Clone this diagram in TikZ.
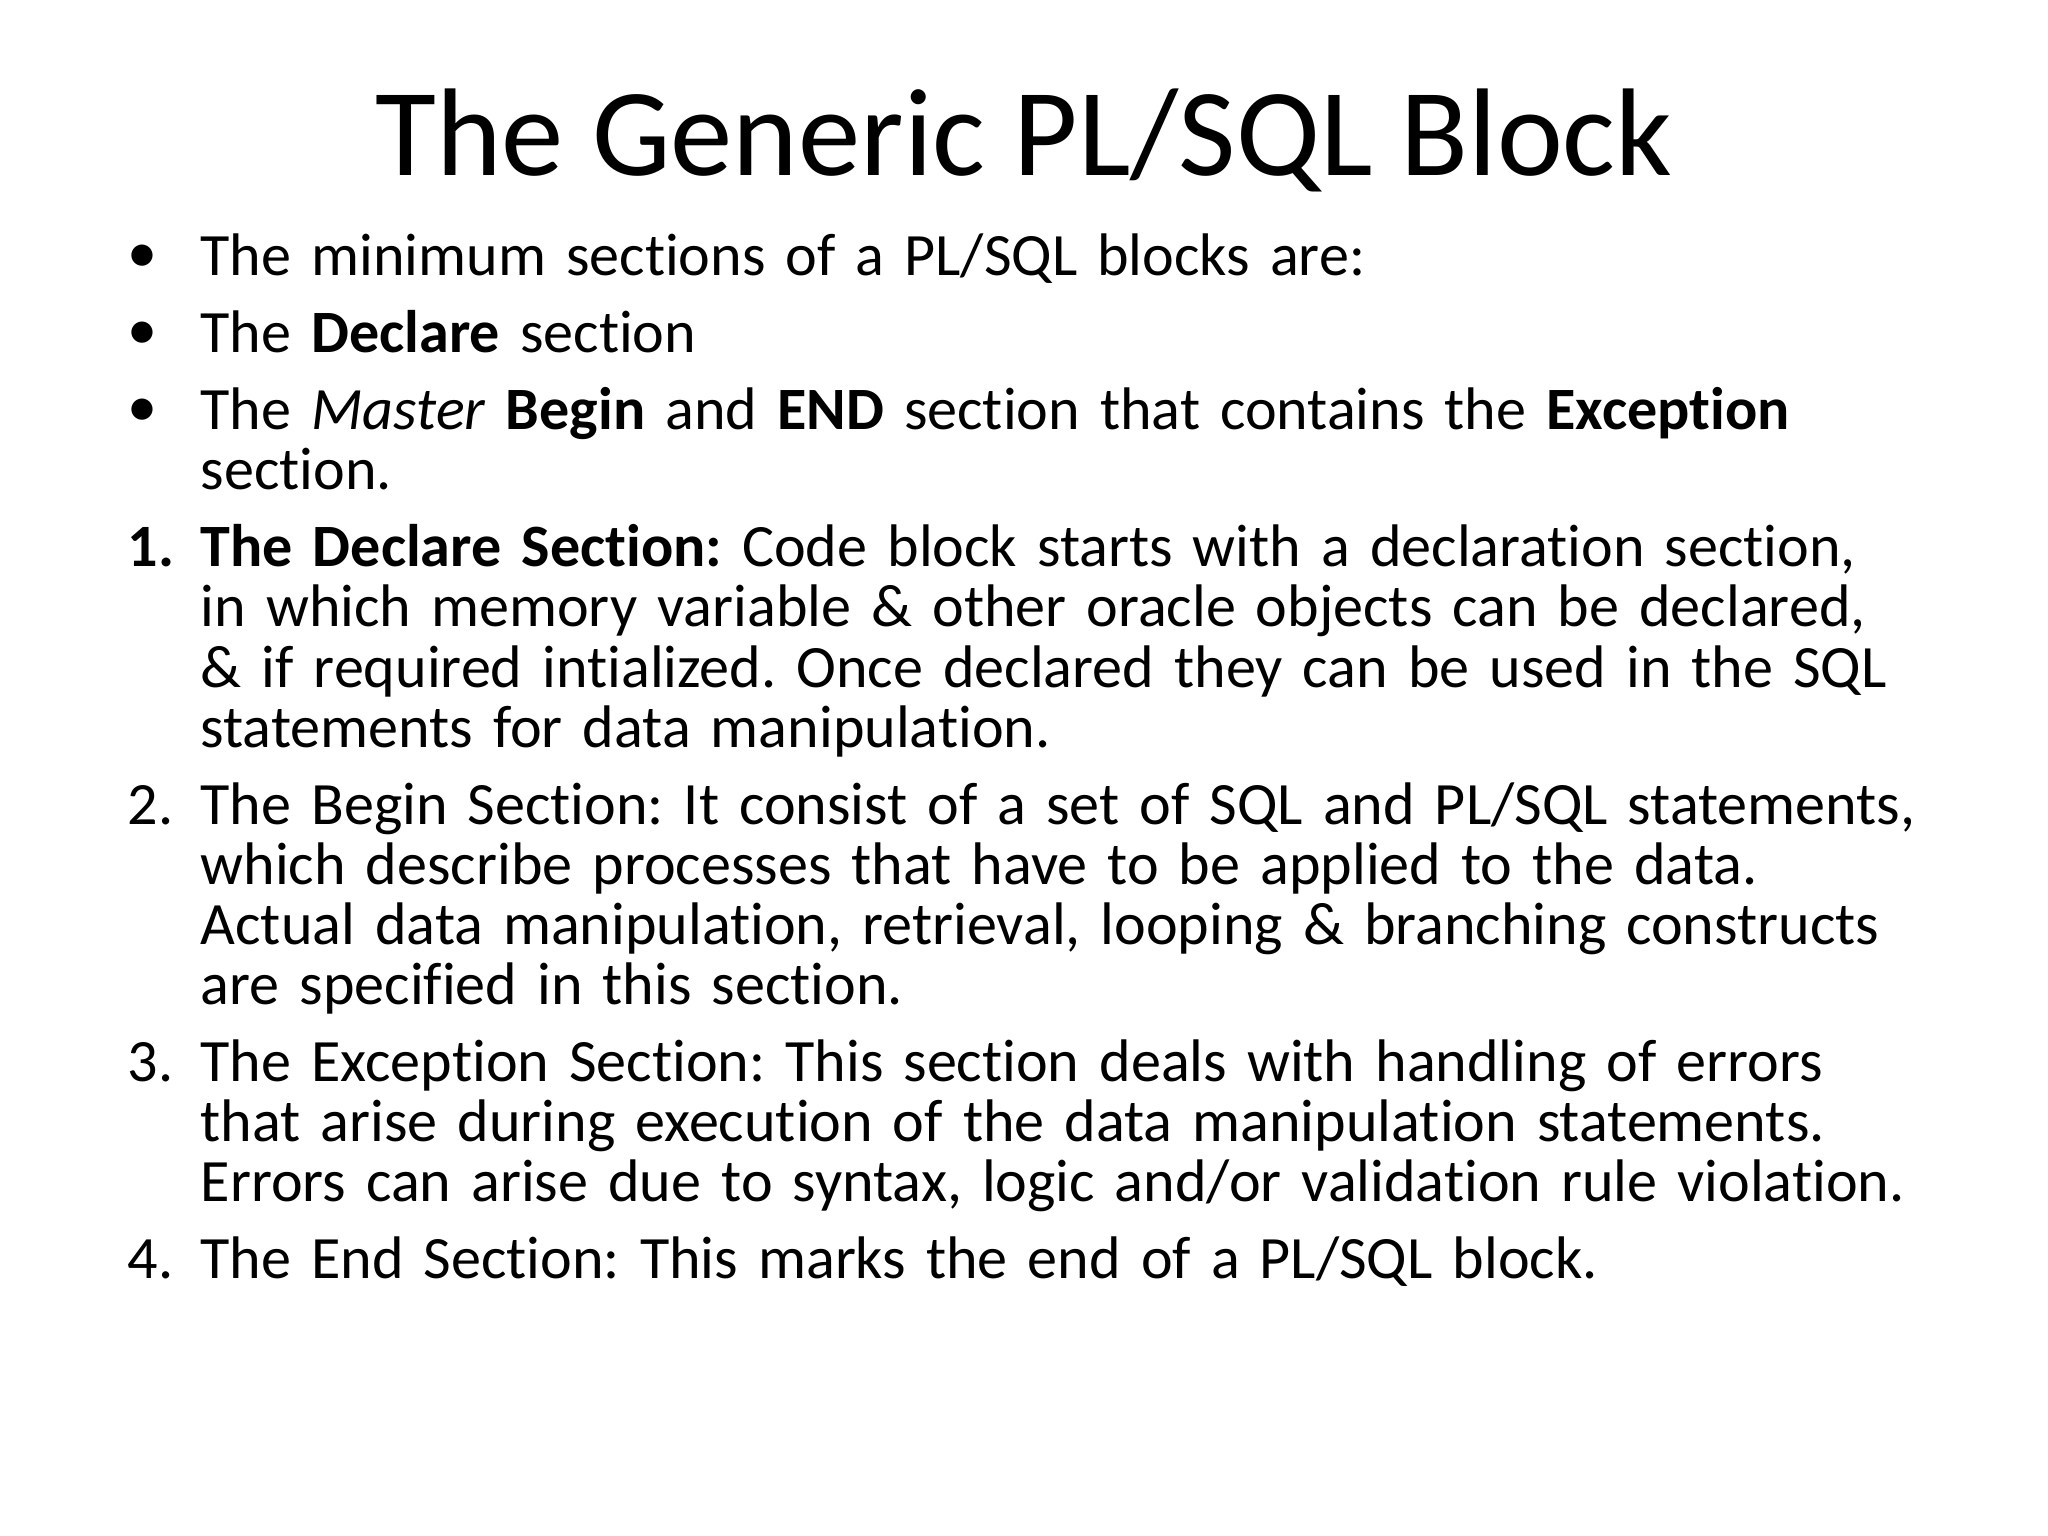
\documentclass[tikz,border=0pt]{standalone}
\usepackage{fontspec}
\setmainfont{Carlito}[Ligatures=NoCommon]
\begin{document}
\begin{tikzpicture}
\useasboundingbox (0,0) rectangle (20.48,15.36);
\node[anchor=base, font=\fontsize{35.5}{40}\selectfont] (title) at (10.24,13.6) {The Generic PL/SQL Block};
\node[anchor=north west, inner sep=0pt, text width=18.5cm, font=\fontsize{17.1}{17.1}\selectfont] (body) at (1.27,13.03) {%
\frenchspacing\hyphenpenalty=10000 \exhyphenpenalty=10000 \parskip=0.17cm \parindent=0pt
\def\itm#1{\hangindent=0.73cm \hangafter=1 \noindent\makebox[0.73cm][l]{#1}}%
{\rightskip=0pt plus 1fil \itm{\raisebox{0.05em}{•}}The minimum sections of a PL/SQL blocks are:\par}
{\rightskip=0pt plus 1fil \itm{\raisebox{0.05em}{•}}The \textbf{Declare} section\par}
{\rightskip=0pt plus 1fil \itm{\raisebox{0.05em}{•}}The \textit{Master} \textbf{Begin} and \textbf{END} section that contains the \textbf{Exception} section.\par}
{\rightskip=0.55cm\itm{\textbf{1.}}\textbf{The Declare Section:} Code block starts with a declaration section, in which memory variable \& other oracle objects can be declared, \& if required intialized. Once declared they can be used in the SQL statements for data manipulation.\par}
{\rightskip=0.55cm\itm{2.}The Begin Section: It consist of a set of SQL and PL/SQL statements, which describe processes that have to be applied to the data. Actual data manipulation, retrieval, looping \& branching constructs are specified in this section.\par}
{\rightskip=0.55cm\itm{3.}The Exception Section: This section deals with handling of errors that arise during execution of the data manipulation statements. Errors can arise due to syntax, logic and/or validation rule violation.\par}
{\rightskip=0.55cm\itm{4.}The End Section: This marks the end of a PL/SQL block.\par}
};
\end{tikzpicture}
\end{document}
